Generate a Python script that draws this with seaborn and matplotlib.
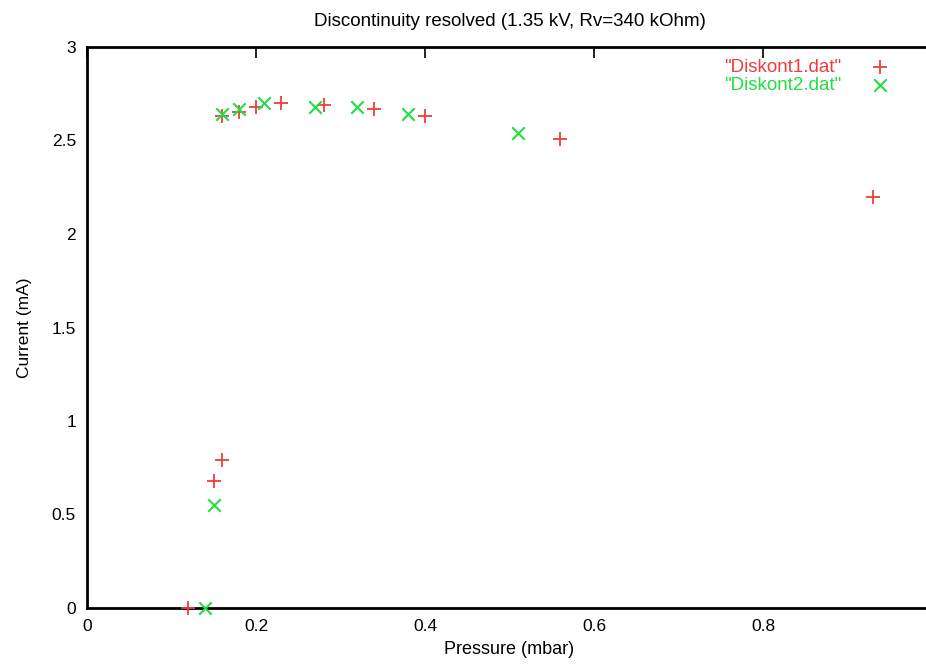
import matplotlib
matplotlib.use("Agg")
import matplotlib.pyplot as plt
import seaborn as sns
import pandas as pd

# Data
p1 = [0.12, 0.15, 0.16, 0.16, 0.18, 0.20, 0.23, 0.28, 0.34, 0.40, 0.56, 0.93]
i1 = [0.00, 0.68, 0.79, 2.63, 2.65, 2.68, 2.70, 2.69, 2.67, 2.63, 2.51, 2.20]
p2 = [0.14, 0.15, 0.16, 0.18, 0.21, 0.27, 0.32, 0.38, 0.51]
i2 = [0.00, 0.55, 2.64, 2.67, 2.70, 2.68, 2.68, 2.64, 2.54]
label1 = '"Diskont1.dat"'
label2 = '"Diskont2.dat"'
xticks = [0, 0.2, 0.4, 0.6, 0.8]
yticks = [0, 0.5, 1, 1.5, 2, 2.5, 3]

sns.set_theme(style="white")
plt.rcParams['font.family'] = ['Liberation Sans', 'DejaVu Sans']
plt.rcParams['text.color'] = 'black'
plt.rcParams['axes.labelcolor'] = 'black'

red = '#f03c3c'
green = '#22dd44'

fig = plt.figure(figsize=(9.26, 6.66), dpi=100)
ax = fig.add_axes([87/926, 58/666, 845/926, 561/666])

df1 = pd.DataFrame({'p': p1, 'i': i1})
df2 = pd.DataFrame({'p': p2, 'i': i2})
sns.scatterplot(data=df1, x='p', y='i', marker='+', s=110, color=red,
                linewidth=1.3, ax=ax, label=label1, zorder=3, clip_on=False)
sns.scatterplot(data=df2, x='p', y='i', marker='x', s=80, color=green,
                linewidth=1.5, ax=ax, label=label2, zorder=3, clip_on=False)

ax.set_xlim(0, 1.0)
ax.set_ylim(0, 3)
ax.set_xticks(xticks)
ax.set_xticklabels(['0', '0.2', '0.4', '0.6', '0.8'])
ax.set_yticks(yticks)
ax.set_yticklabels(['0', '0.5', '1', '1.5', '2', '2.5', '3'])
ax.tick_params(direction='in', length=8, width=1.2, top=True, right=False,
               labelsize=12.5, colors='black', labelcolor='black', pad=8)
for sp in ax.spines.values():
    sp.set_color('black')
    sp.set_linewidth(2)

ax.set_xlabel('Pressure (mbar)', fontsize=13, labelpad=5, color='black')
ax.set_ylabel('Current (mA)', fontsize=12.5, labelpad=14, color='black')
ax.set_title('Discontinuity resolved (1.35 kV, Rv=340 kOhm)', fontsize=13.5, pad=15,
             color='black')

leg = ax.legend(markerfirst=False, loc='upper right',
                bbox_to_anchor=(902/926, 1 - 51/666), bbox_transform=fig.transFigure,
                frameon=False, fontsize=13.5, handlelength=1.5, handletextpad=1.35,
                labelspacing=0.05, borderaxespad=0)
for txt, c in zip(leg.get_texts(), [red, green]):
    txt.set_color(c)

fig.savefig('out.png', dpi=100)
